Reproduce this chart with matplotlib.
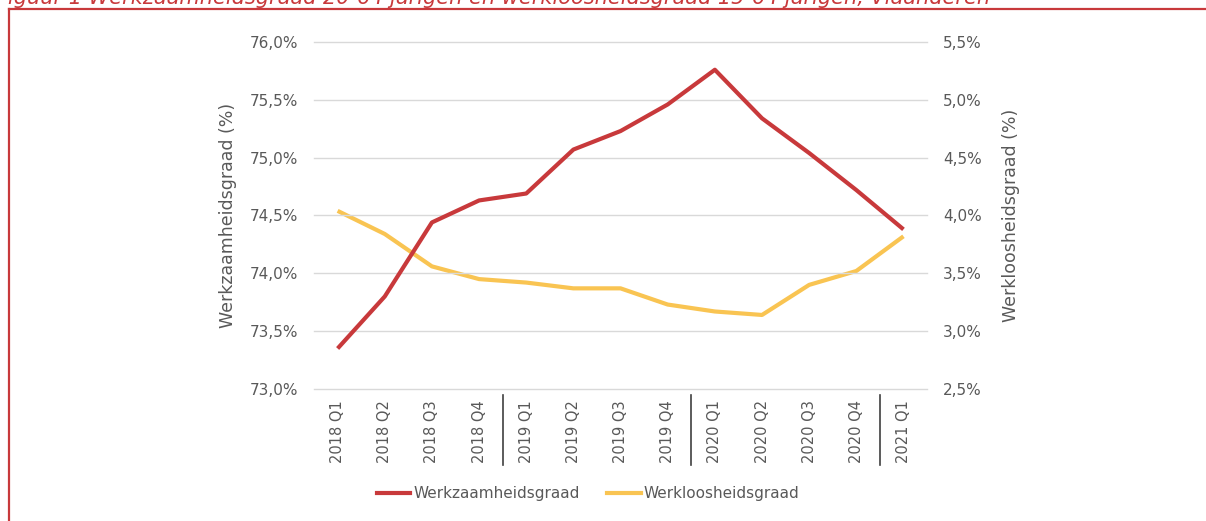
import matplotlib

matplotlib.use("Agg")
import matplotlib.pyplot as plt
from matplotlib.lines import Line2D
from matplotlib.ticker import FuncFormatter

# Kwartalen en waarden
QUARTERS = [
    "2018 Q1", "2018 Q2", "2018 Q3", "2018 Q4",
    "2019 Q1", "2019 Q2", "2019 Q3", "2019 Q4",
    "2020 Q1", "2020 Q2", "2020 Q3", "2020 Q4",
    "2021 Q1",
]
WERKZAAMHEID = [73.35, 73.80, 74.44, 74.63, 74.69, 75.07, 75.23,
                75.46, 75.76, 75.34, 75.04, 74.72, 74.38]
WERKLOOSHEID = [4.04, 3.84, 3.56, 3.45, 3.42, 3.37, 3.37,
                3.23, 3.17, 3.14, 3.40, 3.52, 3.82]
LEFT_TICKS = [73.0, 73.5, 74.0, 74.5, 75.0, 75.5, 76.0]
RIGHT_TICKS = [2.5, 3.0, 3.5, 4.0, 4.5, 5.0, 5.5]
YEAR_BREAKS = [4, 8, 12]  # jaargrenzen onder de x-as

TITLE = "Figuur 1 Werkzaamheidsgraad 20-64 jarigen en werkloosheidsgraad 15-64 jarigen, Vlaanderen"
RED = "#C8393B"
YELLOW = "#F9C452"
GREY = "#595959"
GRID = "#D9D9D9"

plt.rcParams["font.family"] = ["DejaVu Sans"]


def pct(value, pos):
    return f"{value:.1f}%".replace(".", ",")


fig = plt.figure(figsize=(12.06, 5.21), dpi=100)
ax1 = fig.add_axes([0.2604, 0.2534, 0.5083, 0.666])
ax2 = ax1.twinx()

x = list(range(len(QUARTERS)))
ax1.plot(x, WERKZAAMHEID, color=RED, lw=3, solid_capstyle="butt", zorder=3)
ax2.plot(x, WERKLOOSHEID, color=YELLOW, lw=3, solid_capstyle="butt", zorder=2)
ax1.set_zorder(ax2.get_zorder() + 1)
ax1.patch.set_visible(False)

ax1.set_xlim(-0.5, len(QUARTERS) - 0.5)
ax1.set_ylim(LEFT_TICKS[0], LEFT_TICKS[-1])
ax2.set_ylim(RIGHT_TICKS[0], RIGHT_TICKS[-1])
ax1.set_yticks(LEFT_TICKS)
ax2.set_yticks(RIGHT_TICKS)
ax1.yaxis.set_major_formatter(FuncFormatter(pct))
ax2.yaxis.set_major_formatter(FuncFormatter(pct))
ax1.set_xticks(x)
ax1.set_xticklabels(QUARTERS, rotation=90)

ax1.grid(axis="y", color=GRID, lw=1)
ax1.set_axisbelow(True)
for line in ax1.get_ygridlines():
    line.set_clip_on(False)
for ax in (ax1, ax2):
    for side in ax.spines.values():
        side.set_visible(False)
    ax.tick_params(length=0, colors=GREY, labelsize=11)
ax1.tick_params(axis="y", pad=11.5)
ax2.tick_params(axis="y", pad=11.5)
ax1.tick_params(axis="x", pad=8, labelsize=10.5)

ax1.set_ylabel("Werkzaamheidsgraad (%)", color=GREY, fontsize=12.5)
ax2.set_ylabel("Werkloosheidsgraad (%)", color=GREY, fontsize=12.5)
ax1.yaxis.set_label_coords(-0.125, 0.5)
ax2.yaxis.set_label_coords(1.122, 0.5)

# scheidingslijnen tussen de jaren
for b in YEAR_BREAKS:
    ax1.plot([b - 0.5, b - 0.5], [-0.017, -0.22], color="#404040", lw=1.2,
             transform=ax1.get_xaxis_transform(), clip_on=False)

handles = [Line2D([], [], color=RED, lw=3), Line2D([], [], color=YELLOW, lw=3)]
fig.legend(handles, ["Werkzaamheidsgraad", "Werkloosheidsgraad"],
           loc="center", bbox_to_anchor=(0.4876, 0.052), ncol=2, frameon=False,
           fontsize=11, labelcolor=GREY, handlelength=2.2,
           handletextpad=0.2, columnspacing=1.8)

# rode kader en (afgesneden) titel
fig.add_artist(Line2D([9 / 1206, 1.01], [1 - 9 / 521, 1 - 9 / 521],
                      color=RED, lw=1.6, transform=fig.transFigure))
fig.add_artist(Line2D([9 / 1206, 9 / 1206], [1 - 9 / 521, -0.01],
                      color=RED, lw=1.6, transform=fig.transFigure))
fig.text(-0.003, 1 - 3.5 / 521, TITLE, color=RED, style="italic",
         fontsize=15, va="baseline", ha="left")

fig.savefig("out.png", dpi=100)
